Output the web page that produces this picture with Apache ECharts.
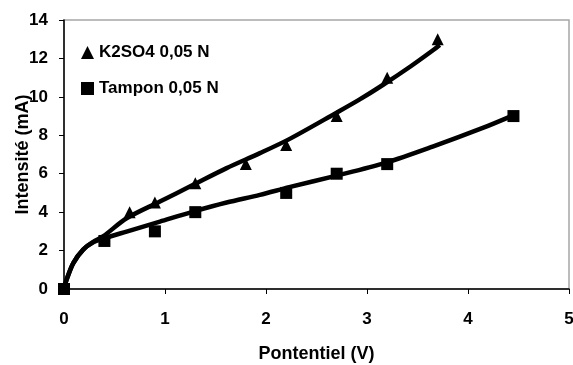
<!DOCTYPE html>
<html>
<head>
<meta charset="utf-8">
<script src="https://cdn.jsdelivr.net/npm/echarts@6/dist/echarts.min.js"></script>
<style>
  html, body { margin: 0; padding: 0; background: #fff; }
  #chart { width: 573px; height: 365px; }
</style>
</head>
<body>
<div id="chart"></div>
<script>
// points mesurés
var potK2SO4 = [0, 0.65, 0.9, 1.3, 1.8, 2.2, 2.7, 3.2, 3.7];
var intK2SO4 = [0, 4, 4.5, 5.5, 6.5, 7.5, 9, 11, 13];
var potTampon = [0, 0.4, 0.9, 1.3, 2.2, 2.7, 3.2, 4.45];
var intTampon = [0, 2.5, 3, 4, 5, 6, 6.5, 9];

// courbes de tendance
var curveK2SO4X = [0, 0.026, 0.092, 0.19, 0.29, 0.39, 0.62, 0.95, 1.28, 1.61, 1.94, 2.23, 2.69, 2.92, 3.16, 3.43, 3.66, 3.72];
var curveK2SO4Y = [0, 0.5, 1.35, 2.05, 2.45, 2.75, 3.68, 4.55, 5.42, 6.29, 7.07, 7.8, 9.15, 9.84, 10.63, 11.58, 12.45, 12.7];
var curveTamponX = [0, 0.026, 0.092, 0.19, 0.29, 0.405, 0.62, 0.95, 1.28, 1.61, 1.94, 2.23, 2.69, 3.19, 3.65, 4.14, 4.43];
var curveTamponY = [0, 0.48, 1.35, 2.05, 2.43, 2.65, 2.99, 3.51, 4.03, 4.5, 4.9, 5.3, 5.89, 6.58, 7.41, 8.37, 9.0];

var xTicks = [0, 1, 2, 3, 4, 5];
var yTicks = [0, 2, 4, 6, 8, 10, 12, 14];

function pairs(xs, ys) {
	var out = [];
	for (var i = 0; i < xs.length; i++) {
		out.push([xs[i], ys[i]]);
	}
	return out;
}

var chart = echarts.init(document.getElementById('chart'));
var font = 'Liberation Sans, Arial, sans-serif';

var option = {
	animation : false,
	textStyle : { fontFamily : font },
	grid : {
		left : 64,
		right : 4,
		top : 20,
		bottom : 76,
		outerBoundsMode : 'none',
		containLabel : false,
		show : true,
		borderColor : '#a6a6a6',
		borderWidth : 1.5
	},
	legend : {
		orient : 'vertical',
		left : 76,
		top : 39,
		itemGap : 19,
		itemWidth : 13,
		itemHeight : 13,
		textStyle : {
			fontFamily : font,
			fontWeight : 'bold',
			fontSize : 17,
			color : '#000'
		},
		data : [ {
			name : 'K2SO4 0,05 N',
			icon : 'triangle'
		}, {
			name : 'Tampon 0,05 N',
			icon : 'rect'
		} ]
	},
	xAxis : {
		type : 'value',
		min : xTicks[0],
		max : xTicks[xTicks.length - 1],
		interval : 1,
		name : 'Pontentiel (V)',
		nameLocation : 'middle',
		nameGap : 56,
		nameMoveOverlap : false,
		nameTextStyle : {
			fontFamily : font,
			fontWeight : 'bold',
			fontSize : 18,
			color : '#000'
		},
		axisLine : { lineStyle : { color : '#000', width : 1.5 } },
		axisTick : { show : true, length : 5, lineStyle : { color : '#000' } },
		axisLabel : {
			margin : 22,
			fontWeight : 'bold',
			fontSize : 17,
			color : '#000'
		},
		splitLine : { show : false }
	},
	yAxis : {
		type : 'value',
		min : yTicks[0],
		max : yTicks[yTicks.length - 1],
		interval : 2,
		name : 'Intensité (mA)',
		nameLocation : 'middle',
		nameGap : 32,
		nameMoveOverlap : false,
		nameTextStyle : {
			fontFamily : font,
			fontWeight : 'bold',
			fontSize : 18,
			color : '#000'
		},
		axisLine : { show : true, lineStyle : { color : '#000', width : 1.5 } },
		axisTick : { show : true, length : 5, lineStyle : { color : '#000' } },
		axisLabel : {
			margin : 16,
			fontWeight : 'bold',
			fontSize : 17,
			color : '#000'
		},
		splitLine : { show : false }
	},
	series : [ {
		name : 'K2SO4 0,05 N',
		type : 'line',
		data : pairs(curveK2SO4X, curveK2SO4Y),
		smooth : 0.3,
		showSymbol : false,
		lineStyle : { color : '#000', width : 4.5 },
		itemStyle : { color : '#000' }
	}, {
		name : 'Tampon 0,05 N',
		type : 'line',
		data : pairs(curveTamponX, curveTamponY),
		smooth : 0.3,
		showSymbol : false,
		lineStyle : { color : '#000', width : 4.5 },
		itemStyle : { color : '#000' }
	}, {
		name : 'K2SO4 0,05 N',
		type : 'scatter',
		symbol : 'triangle',
		symbolSize : 12,
		data : pairs(potK2SO4, intK2SO4),
		itemStyle : { color : '#000', opacity : 1 },
		z : 3
	}, {
		name : 'Tampon 0,05 N',
		type : 'scatter',
		symbol : 'rect',
		symbolSize : 12,
		data : pairs(potTampon, intTampon),
		itemStyle : { color : '#000', opacity : 1 },
		z : 3
	} ]
};
chart.setOption(option);
</script>
</body>
</html>
